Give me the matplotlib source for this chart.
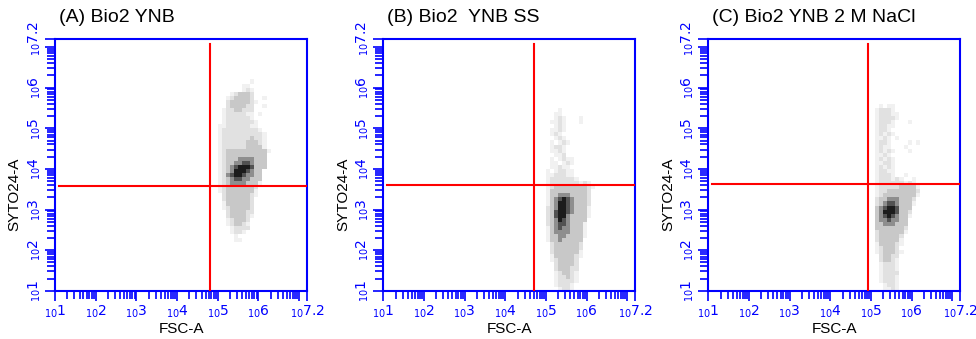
import numpy as np
import matplotlib
matplotlib.use("Agg")
import matplotlib.pyplot as plt
from matplotlib.colors import ListedColormap, BoundaryNorm
from matplotlib.ticker import FixedLocator, LogLocator, NullFormatter

# ---------------- data ----------------
titles = ["(A) Bio2 YNB", "(B) Bio2  YNB SS", "(C) Bio2 YNB 2 M NaCl"]
x_label = "FSC-A"
y_label = "SYTO24-A"

# quadrant gate positions (log10 units)
gate_x_log = [4.80, 4.71, 4.92]
gate_y_log = [3.58, 3.61, 3.63]

# density grids: 0.1-decade cells,
# columns start at log10(FSC) = 4.8, rows start (top) at y_top_log
# ' ' empty, '.' sparse, ':' scattered, 'o' light, 'O' medium, '#' dark, '@' core
grid_x_left_log = 4.8
grid_step_log = 0.1

grid_a_top_log = 6.3
grid_a = [
    "                ",
    "          .     ",
    "        ..      ",
    "        .:.     ",
    "     .:ooo:     ",
    "    .:oooo:  .  ",
    "    :ooooo:.    ",
    "    :oooo::  .  ",
    "   .::oo:::     ",
    "   .:::::.. .   ",
    "   .::::::.     ",
    "   .:::::::.    ",
    "  ..::::::..    ",
    "  .:::::::::.   ",
    "  .::::::::::.  ",
    "  .:::::::o::.  ",
    "  .::::::ooo:.  ",
    "  .::::::oooo.  ",
    "  .:oooooooooo. ",
    "  .:oooooooooo  ",
    "  .:oooOOOOooo  ",
    "  .:ooOO##Oooo  ",
    "  .:oO#@@@#ooo  ",
    "  .:oO@@@#Ooo   ",
    "  .:O#@@#OOoo   ",
    "  .:oO##OOooo   ",
    "  .:oOOOOooo.   ",
    "  .:ooooooo:    ",
    "  .:ooooooo.    ",
    "   :oooooo:.    ",
    "   :oooooo:     ",
    "   .oooooo:     ",
    "   .:ooooo:     ",
    "    :oooo::     ",
    "    :oooo:.     ",
    "    .:ooo:      ",
    "    .:oo:.      ",
    "     .::::      ",
    "     .::.       ",
    "      .         ",
    "      ..        ",
    "                ",
]

grid_b_top_log = 5.5
grid_b = [
    "     .          ",
    "    ..          ",
    "    .:.   .     ",
    "   ..:.   .     ",
    "    .:.         ",
    "   ..:.         ",
    "   .:.          ",
    "    .:.         ",
    "   . .:.        ",
    "   .::.         ",
    "   ..:.         ",
    "    ..:         ",
    "   . .:..       ",
    "   .. .:.       ",
    "   ..:..        ",
    "  . .::..       ",
    "  ..:::..       ",
    "  .::::::.      ",
    "  .:::::::.:.   ",
    "  .:oooooooo:.  ",
    "  .ooooooooo:   ",
    "  .ooOOOoooo:   ",
    "  .oO#@#Oooo:   ",
    "  .oO@@#Oooo:   ",
    "  :oO@@#Oooo.   ",
    "  :o#@@#Oooo.   ",
    "  :o#@@Ooooo.   ",
    "  :oO@#Ooooo    ",
    "  :oO##Oooo.    ",
    "  .oO#OOooo.    ",
    "  .oOOOOooo.    ",
    "  .ooOOoooo.    ",
    "  .ooOooooo     ",
    "   :oooooo:     ",
    "   :oooooo:     ",
    "   :oooooo.     ",
    "   .ooooo:.     ",
    "   .:oooo:      ",
    "    :oooo:      ",
    "    :ooo::      ",
    "    .:oo:.      ",
    "    .::o:.      ",
    "    .::::.      ",
    "    .:::.       ",
    "     .::.       ",
]

grid_c_top_log = 5.7
grid_c = [
    "                ",
    "    . ..        ",
    "   .:::.        ",
    "   .:::..       ",
    "   .::::.       ",
    "   .:::.   .    ",
    "   .::..        ",
    "   .::.         ",
    "   .:.:.        ",
    "   ..:. .       ",
    "   .::.    . .  ",
    "   .:..   .     ",
    "   .:.:.   .    ",
    "   ..:.         ",
    "   .:.:.        ",
    "   ..::.        ",
    "   .:.:.        ",
    "   .::..        ",
    "   .:::.  .     ",
    "   .:::.:.  .   ",
    "   .::::::.:.   ",
    "   .:::::oooo.  ",
    "   .::ooooooo:  ",
    "   .:oooooooo.  ",
    "   :ooOOOooo:   ",
    "   :oO##Oooo.   ",
    "   oO#@@#ooo    ",
    "   oO@@@#oo:    ",
    "   oO#@#Ooo.    ",
    "   oOO#OOoo     ",
    "   ooOOOooo     ",
    "   ooooooo:     ",
    "   :oooooo.     ",
    "   :ooooo:      ",
    "   :ooooo.      ",
    "   .oooo:.      ",
    "   .:ooo:       ",
    "   .:ooo:.      ",
    "    :oo::       ",
    "    :oo:.       ",
    "    .:::.       ",
    "    .:::.       ",
    "    .::::       ",
    "    .:::.       ",
    "    .:::.       ",
    "     .::.       ",
    "     ..:.       ",
]

grids = [grid_a, grid_b, grid_c]
grid_tops = [grid_a_top_log, grid_b_top_log, grid_c_top_log]

axis_min_log = 1.0
axis_max_log = 7.2
decades = [1, 2, 3, 4, 5, 6, 7]
labelled = [1, 2, 3, 4, 5, 6, 7.2]

# ---------------- style ----------------
level_of = {" ": 0, ".": 1, ":": 2, "o": 3, "O": 4, "#": 5, "@": 6}
level_colors = ["#ffffff", "#f1f1f1", "#e1e1e1", "#c8c8c8", "#8e8e8e", "#525252", "#1c1c1c"]
cmap = ListedColormap(level_colors)
norm = BoundaryNorm(np.arange(-0.5, 7.5, 1.0), cmap.N)

BLUE = "#0000ff"
RED = "#ff0000"
text_font = ["Liberation Sans", "DejaVu Sans"]

fig = plt.figure(figsize=(9.76, 3.39), dpi=100)
lefts = [0.0564, 0.3927, 0.7257]
bottom, width, height = 0.142, 0.2584, 0.7434


def tick_label(v):
    if not any(abs(v - l) < 1e-9 for l in labelled):
        return ""
    s = "7.2" if abs(v - 7.2) < 1e-9 else str(int(v))
    return r"${}_{10}" + s + r"$"


for i, ax_left in enumerate(lefts):
    ax = fig.add_axes([ax_left, bottom, width, height])
    ax.set_xscale("log")
    ax.set_yscale("log")

    g = grids[i]
    ncols = max(len(r) for r in g)
    mat = np.array([[level_of[c] for c in r.ljust(ncols)] for r in g], dtype=float)
    mat = mat[::-1]  # bottom row first
    nrows = mat.shape[0]
    x_edges = 10 ** (grid_x_left_log + grid_step_log * np.arange(ncols + 1))
    y_edges = 10 ** (grid_tops[i] - grid_step_log * nrows + grid_step_log * np.arange(nrows + 1))
    ax.pcolormesh(x_edges, y_edges, np.ma.masked_equal(mat, 0), cmap=cmap, norm=norm,
                  shading="flat", zorder=1)

    # gates
    gx = 10 ** gate_x_log[i]
    gy = 10 ** gate_y_log[i]
    ax.axvline(gx, ymin=0.0, ymax=0.98, color=RED, lw=1.5, zorder=3)
    ax.axhline(gy, xmin=0.015, xmax=1.0, color=RED, lw=1.5, zorder=3)

    ax.set_xlim(10 ** axis_min_log, 10 ** axis_max_log)
    ax.set_ylim(10 ** axis_min_log, 10 ** axis_max_log)

    major_vals = decades + [axis_max_log]
    major_pos = [10 ** v for v in major_vals]
    labels = [tick_label(v) for v in major_vals]
    for axis in (ax.xaxis, ax.yaxis):
        axis.set_major_locator(FixedLocator(major_pos))
        axis.set_minor_locator(LogLocator(base=10, subs=np.arange(2, 10), numticks=20))
        axis.set_minor_formatter(NullFormatter())
    ax.set_xticklabels(labels)
    ax.set_yticklabels(labels, rotation=90, va="center")

    ax.tick_params(which="both", direction="out", colors=BLUE, width=1.2,
                   top=False, right=False, labelsize=10)
    ax.tick_params(which="major", length=7, pad=2)
    ax.tick_params(which="minor", length=6)
    for sp in ax.spines.values():
        sp.set_color(BLUE)
        sp.set_linewidth(1.5)

    ax.set_xlabel(x_label, fontsize=11, family=text_font)
    ax.set_ylabel(y_label, fontsize=11, family=text_font)
    ax.xaxis.set_label_coords(0.5, -0.125)
    ax.yaxis.set_label_coords(-0.132, 0.385)

    fig.text(ax_left + 0.004, 1 - 17 / 339, titles[i], fontsize=14, family=text_font,
             ha="left", va="center")

fig.savefig("out.png", dpi=100, facecolor="white")
